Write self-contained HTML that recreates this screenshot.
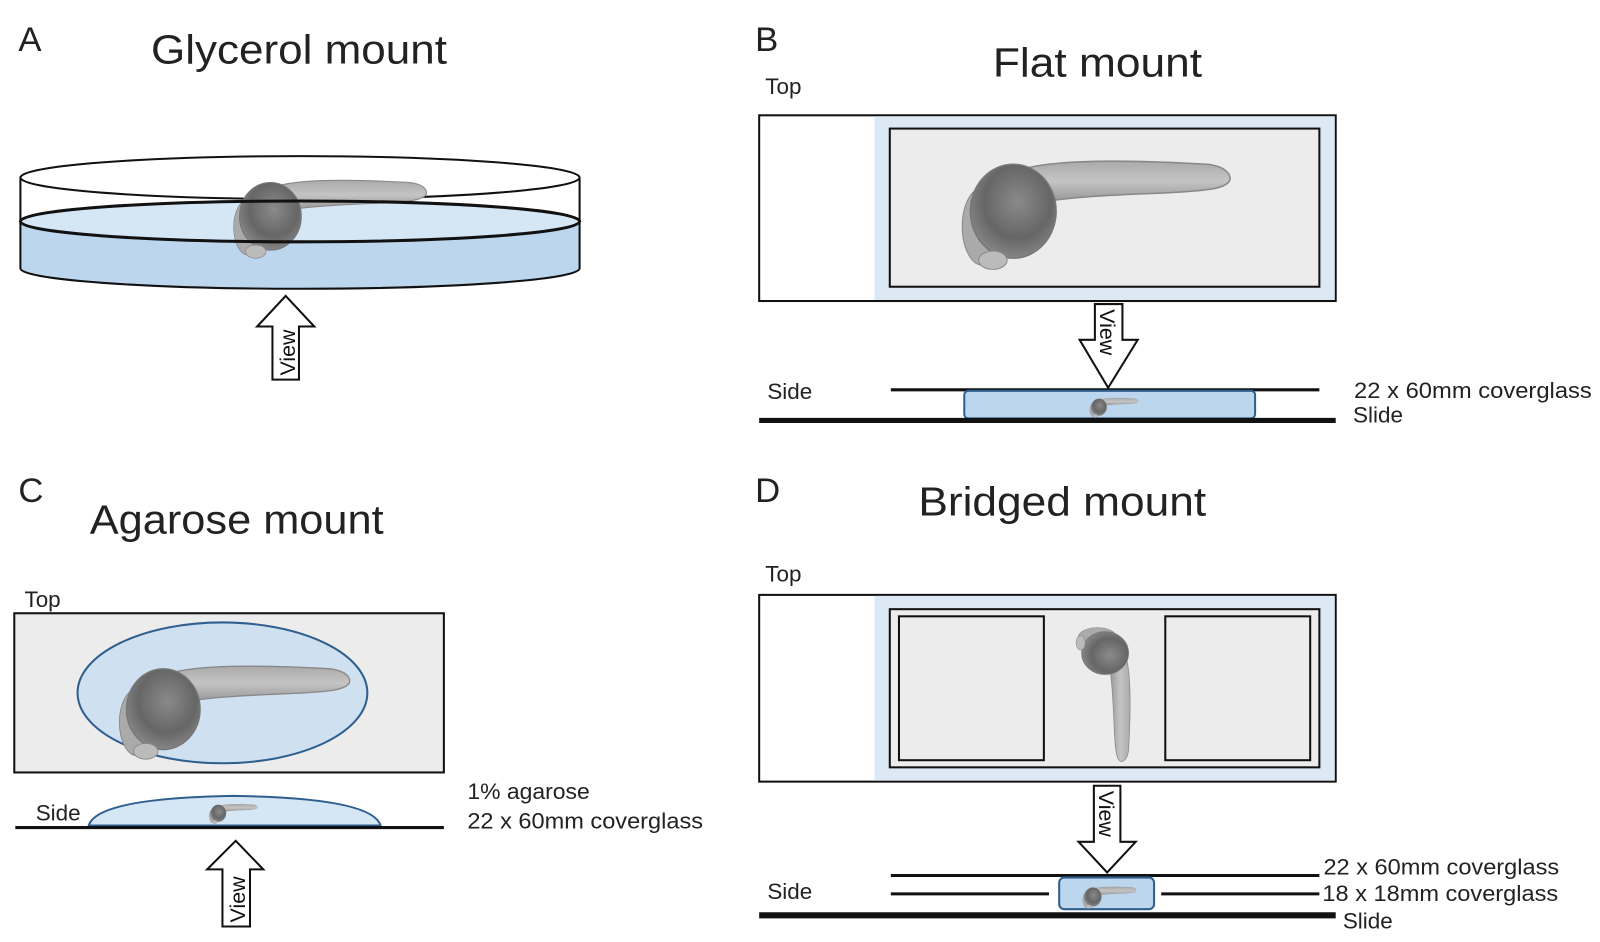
<!DOCTYPE html>
<html><head><meta charset="utf-8"><style>
html,body{margin:0;padding:0;background:#fff;}
svg{display:block;font-family:"Liberation Sans",sans-serif;}
</style></head><body>
<svg width="1600" height="942" viewBox="0 0 1600 942" xmlns="http://www.w3.org/2000/svg">
<defs>
<radialGradient id="hg" cx="0.55" cy="0.4" r="0.65">
<stop offset="0" stop-color="#8a8a8a"/><stop offset="0.6" stop-color="#666"/><stop offset="1" stop-color="#8c8c8c"/>
</radialGradient>
<linearGradient id="tg" x1="0" y1="0" x2="0" y2="1">
<stop offset="0" stop-color="#aaa"/><stop offset="0.5" stop-color="#c4c4c4"/><stop offset="1" stop-color="#999"/>
</linearGradient>
<g id="fish">
<path d="M5,-40 C40,-52 120,-50 190,-46 C208,-44 214,-36 212,-30 C208,-22 190,-20 150,-18 C100,-16 60,-14 35,-10 Z" fill="url(#tg)" stroke="#888" stroke-width="1.5"/>
<ellipse cx="-30" cy="15" rx="20" ry="38" fill="#aaa" stroke="#888"/>
<ellipse cx="0" cy="0" rx="42" ry="46" fill="url(#hg)" stroke="#777" stroke-width="1.5"/>
<ellipse cx="-20" cy="48" rx="14" ry="9" fill="#bbb" stroke="#888"/>
</g>
</defs>
<g transform="scale(1.0204)">
<!-- Panel A -->
<text x="18" y="50" font-size="34" fill="#222">A</text>
<text x="148" y="62" font-size="40" fill="#222" textLength="290" lengthAdjust="spacingAndGlyphs">Glycerol mount</text>
<path d="M20,217 L20,263 A274,20 0 0 0 568,263 L568,217 Z" fill="#bcd6ee"/>
<ellipse cx="294" cy="217" rx="274" ry="20" fill="#d5e6f5"/>
<ellipse cx="294" cy="174" rx="274" ry="21" fill="none" stroke="#111" stroke-width="2"/>
<use href="#fish" transform="translate(265,212) scale(0.72)"/>
<ellipse cx="294" cy="217" rx="274" ry="20" fill="none" stroke="#111" stroke-width="3"/>
<path d="M20,174 L20,263 A274,20 0 0 0 568,263 L568,174" fill="none" stroke="#111" stroke-width="2"/>
<path d="M280,290 L308,320 L293,320 L293,372 L267,372 L267,320 L252,320 Z" fill="#fff" stroke="#111" stroke-width="2"/>
<text transform="translate(289,368) rotate(-90)" font-size="21" fill="#111">View</text>

<!-- Panel B -->
<text x="740" y="50" font-size="34" fill="#222">B</text>
<text x="973" y="75" font-size="40" fill="#222" textLength="205" lengthAdjust="spacingAndGlyphs">Flat mount</text>
<text x="750" y="92" font-size="22" fill="#222">Top</text>
<rect x="744" y="113" width="565" height="182" fill="#fff" stroke="#111" stroke-width="2"/>
<rect x="857" y="114" width="451" height="180" fill="#dce9f5"/>
<rect x="872" y="126" width="421" height="155" fill="#ececec" stroke="#111" stroke-width="2"/>
<use href="#fish" transform="translate(993,207)"/>
<path d="M1073,298 L1100,298 L1100,333 L1115,333 L1086,380 L1058,333 L1073,333 Z" fill="#fff" stroke="#111" stroke-width="2"/>
<text transform="translate(1078,303) rotate(90)" font-size="21" fill="#111">View</text>
<text x="752" y="391" font-size="22" fill="#222">Side</text>
<line x1="873" y1="382" x2="1293" y2="382" stroke="#111" stroke-width="3"/>
<rect x="945" y="383" width="285" height="27" rx="4" fill="#bcd6ee" stroke="#2f5f8f" stroke-width="2"/>
<use href="#fish" transform="translate(1077,399) scale(0.18)"/>
<line x1="744" y1="412" x2="1309" y2="412" stroke="#111" stroke-width="5"/>
<text x="1327" y="390" font-size="22" fill="#222" textLength="233" lengthAdjust="spacingAndGlyphs">22 x 60mm coverglass</text>
<text x="1326" y="414" font-size="22" fill="#222">Slide</text>

<!-- Panel C -->
<text x="18" y="492" font-size="34" fill="#222">C</text>
<text x="88" y="523" font-size="40" fill="#222" textLength="288" lengthAdjust="spacingAndGlyphs">Agarose mount</text>
<text x="24" y="595" font-size="22" fill="#222">Top</text>
<rect x="14" y="601" width="421" height="156" fill="#ececec" stroke="#111" stroke-width="2"/>
<ellipse cx="218" cy="679" rx="142" ry="69" fill="#cfe0f0" stroke="#2f5f8f" stroke-width="2"/>
<use href="#fish" transform="translate(160,695) scale(0.86)"/>
<text x="35" y="804" font-size="22" fill="#222">Side</text>
<path d="M87,809 Q95,782 230,780 Q365,782 373,809 Z" fill="#d5e6f5" stroke="#2f5f8f" stroke-width="2"/>
<use href="#fish" transform="translate(214,797) scale(0.18)"/>
<line x1="15" y1="811" x2="435" y2="811" stroke="#111" stroke-width="3"/>
<text x="458" y="783" font-size="22" fill="#222" textLength="120" lengthAdjust="spacingAndGlyphs">1% agarose</text>
<text x="458" y="812" font-size="22" fill="#222" textLength="231" lengthAdjust="spacingAndGlyphs">22 x 60mm coverglass</text>
<path d="M231,824 L258,852 L245,852 L245,908 L218,908 L218,852 L203,852 Z" fill="#fff" stroke="#111" stroke-width="2"/>
<text transform="translate(240,904) rotate(-90)" font-size="21" fill="#111">View</text>

<!-- Panel D -->
<text x="740" y="492" font-size="34" fill="#222">D</text>
<text x="900" y="505" font-size="40" fill="#222" textLength="282" lengthAdjust="spacingAndGlyphs">Bridged mount</text>
<text x="750" y="570" font-size="22" fill="#222">Top</text>
<rect x="744" y="583" width="565" height="183" fill="#fff" stroke="#111" stroke-width="2"/>
<rect x="857" y="584" width="451" height="181" fill="#dce9f5"/>
<rect x="872" y="597" width="421" height="155" fill="#ececec" stroke="#111" stroke-width="2"/>
<rect x="881" y="604" width="142" height="141" fill="#ececec" stroke="#111" stroke-width="2"/>
<rect x="1142" y="604" width="142" height="141" fill="#ececec" stroke="#111" stroke-width="2"/>
<use href="#fish" transform="translate(1083,640) rotate(90) scale(0.5)"/>
<path d="M1072,770 L1098,770 L1098,825 L1113,825 L1085,855 L1057,825 L1072,825 Z" fill="#fff" stroke="#111" stroke-width="2"/>
<text transform="translate(1077,775) rotate(90)" font-size="21" fill="#111">View</text>
<text x="752" y="881" font-size="22" fill="#222">Side</text>
<line x1="873" y1="858" x2="1293" y2="858" stroke="#111" stroke-width="3"/>
<line x1="873" y1="876" x2="1028" y2="876" stroke="#111" stroke-width="3"/>
<line x1="1138" y1="876" x2="1293" y2="876" stroke="#111" stroke-width="3"/>
<rect x="1038" y="860" width="93" height="31" rx="5" fill="#bcd6ee" stroke="#2f5f8f" stroke-width="2"/>
<use href="#fish" transform="translate(1071,879) scale(0.2)"/>
<line x1="744" y1="897" x2="1309" y2="897" stroke="#111" stroke-width="6"/>
<text x="1297" y="857" font-size="22" fill="#222" textLength="231" lengthAdjust="spacingAndGlyphs">22 x 60mm coverglass</text>
<text x="1296" y="883" font-size="22" fill="#222" textLength="231" lengthAdjust="spacingAndGlyphs">18 x 18mm coverglass</text>
<text x="1316" y="910" font-size="22" fill="#222">Slide</text>
</g>
</svg>
</body></html>
